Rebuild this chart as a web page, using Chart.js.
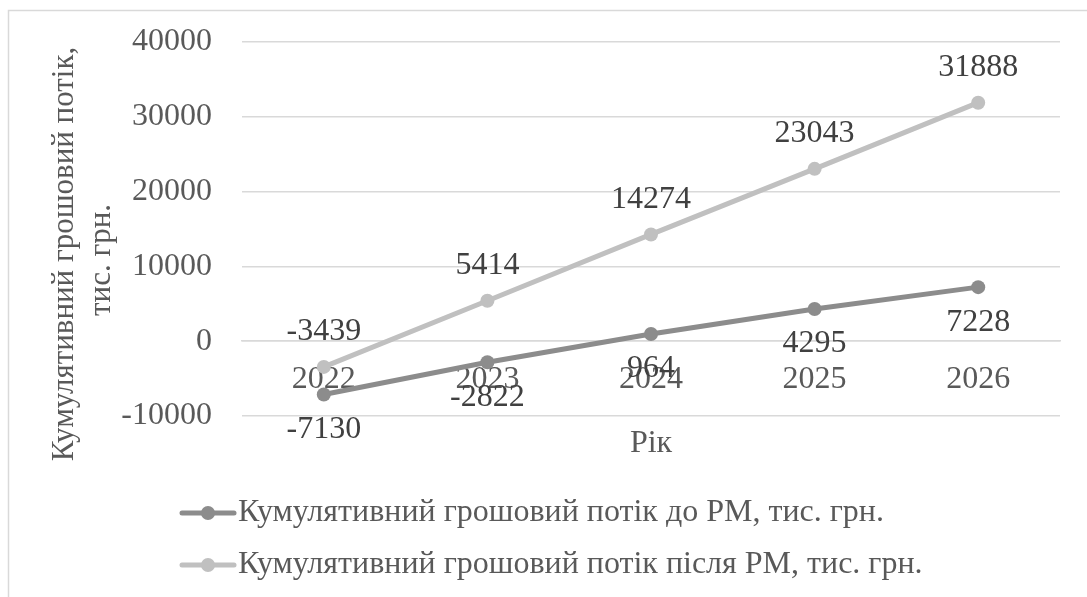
<!DOCTYPE html>
<html>
<head>
<meta charset="utf-8">
<script src="https://cdn.jsdelivr.net/npm/chart.js@4"></script>
<style>
  body { margin: 0; background: #fff; }
  #wrap { width: 1087px; height: 597px; position: relative; }
</style>
</head>
<body>
<div id="wrap"><canvas id="myChart"></canvas></div>
<script>
'use strict';
// chart data
let years = ['2022', '2023', '2024', '2025', '2026'];
let beforeRM = [-7130, -2822, 964, 4295, 7228];
let afterRM = [-3439, 5414, 14274, 23043, 31888];
let seriesNames = ['Кумулятивний грошовий потік до РМ, тис. грн.', 'Кумулятивний грошовий потік після РМ, тис. грн.'];
let yTicks = [-10000, 0, 10000, 20000, 30000, 40000];
let yTitle = ['Кумулятивний грошовий потік,', 'тис. грн.'];
let xTitle = 'Рік';

let fontFamily = "'Liberation Serif', 'Times New Roman', serif";
let fontSize = 32;
let darkGray = '#8c8c8c';
let lightGray = '#c0c0c0';
let textGray = '#595959';
let gridGray = '#d9d9d9';

// legend marker: line with a dot in the middle
function makeMarker(color){
  let c = document.createElement('canvas');
  c.width = 58;
  c.height = 16;
  let g = c.getContext('2d');
  g.strokeStyle = color;
  g.lineWidth = 5;
  g.lineCap = 'round';
  g.beginPath();
  g.moveTo(3, 8);
  g.lineTo(55, 8);
  g.stroke();
  g.fillStyle = color;
  g.beginPath();
  g.arc(29, 8, 7, 0, Math.PI * 2);
  g.fill();
  return c;
}
let markers = [makeMarker(darkGray), makeMarker(lightGray)];

// value labels next to the points
let valueLabels = {
  id: 'valueLabels',
  afterDatasetsDraw(chart){
    let ctx = chart.ctx;
    ctx.save();
    ctx.font = fontSize + 'px ' + fontFamily;
    ctx.fillStyle = '#404040';
    ctx.textAlign = 'center';
    ctx.textBaseline = 'middle';
    chart.data.datasets.forEach(function(ds, i){
      let meta = chart.getDatasetMeta(i);
      meta.data.forEach(function(pt, j){
        let shift = i === 0 ? 35 : -35;
        ctx.fillText(String(ds.data[j]), pt.x, pt.y + shift);
      });
    });
    ctx.restore();
  }
};

// frame, y title and legend placement
let extras = {
  id: 'extras',
  beforeDraw(chart){
    let ctx = chart.ctx;
    ctx.save();
    ctx.strokeStyle = gridGray;
    ctx.lineWidth = 1.5;
    ctx.beginPath();
    ctx.moveTo(8.5, 597);
    ctx.lineTo(8.5, 10.5);
    ctx.lineTo(1087, 10.5);
    ctx.stroke();
    ctx.restore();
    // Excel keeps legend entries in one left aligned column
    chart.legend.left = 174;
    chart.legend.top = 477;
  },
  afterDraw(chart){
    let ctx = chart.ctx;
    ctx.save();
    ctx.font = '31px ' + fontFamily;
    ctx.fillStyle = textGray;
    ctx.textAlign = 'center';
    ctx.textBaseline = 'middle';
    ctx.translate(65, 254);
    ctx.rotate(-Math.PI / 2);
    ctx.fillText(yTitle[0], 0, 0);
    ctx.fillText(yTitle[1], -6, 37);
    ctx.restore();
  }
};

let ctx = document.getElementById('myChart');
let myChart = new Chart(ctx, {
  type: 'line',
  data: {
    labels: years,
    datasets: [{
      label: seriesNames[0],
      data: beforeRM,
      borderColor: darkGray,
      backgroundColor: darkGray,
      borderWidth: 5,
      pointRadius: 7,
      pointBorderWidth: 0,
      pointBackgroundColor: darkGray,
      xAxisID: 'x'
    },
    {
      label: seriesNames[1],
      data: afterRM,
      borderColor: lightGray,
      backgroundColor: lightGray,
      borderWidth: 5,
      pointRadius: 7,
      pointBorderWidth: 0,
      pointBackgroundColor: lightGray,
      xAxisID: 'x'
    }
    ]
  },
  options: {
    responsive: true,
    maintainAspectRatio: false,
    animation: false,
    layout: {
      padding: { top: 42, right: 27, left: 0, bottom: 0 }
    },
    plugins: {
      tooltip: { enabled: false },
      legend: {
        position: 'bottom',
        align: 'start',
        labels: {
          font: { family: fontFamily, size: fontSize },
          color: textGray,
          usePointStyle: true,
          pointStyleWidth: 28,
          padding: 20,
          generateLabels(chart){
            let items = Chart.defaults.plugins.legend.labels.generateLabels(chart);
            items.forEach(function(item, i){
              item.pointStyle = markers[i];
            });
            return items;
          }
        }
      }
    },
    scales: {
      x: {
        type: 'category',
        position: { y: 0 },
        offset: true,
        grid: { display: false, drawTicks: false },
        border: { display: true, color: gridGray, width: 1.5 },
        ticks: {
          font: { family: fontFamily, size: fontSize },
          color: textGray,
          padding: 19,
          maxRotation: 0
        }
      },
      xTitle: {
        type: 'category',
        position: 'bottom',
        offset: true,
        grid: { display: false, drawTicks: false },
        border: { display: false },
        ticks: { display: false },
        title: {
          display: true,
          text: xTitle,
          font: { family: fontFamily, size: fontSize },
          color: textGray,
          padding: { top: 0, bottom: 20 }
        },
        afterFit(scale){
          scale.height = 67;
        }
      },
      y: {
        min: yTicks[0],
        max: yTicks[yTicks.length - 1],
        afterBuildTicks(scale){
          scale.ticks = yTicks.map(function(v){ return { value: v }; });
        },
        grid: { color: gridGray, lineWidth: 1.5, drawTicks: true, tickLength: 10, tickColor: 'rgba(0,0,0,0)' },
        border: { display: false },
        ticks: {
          font: { family: fontFamily, size: fontSize },
          color: textGray,
          padding: 20,
          callback: function(value){ return String(value); }
        },
        afterFit(scale){
          scale.width = 242;
        }
      }
    }
  },
  plugins: [valueLabels, extras]
});
</script>
</body>
</html>
